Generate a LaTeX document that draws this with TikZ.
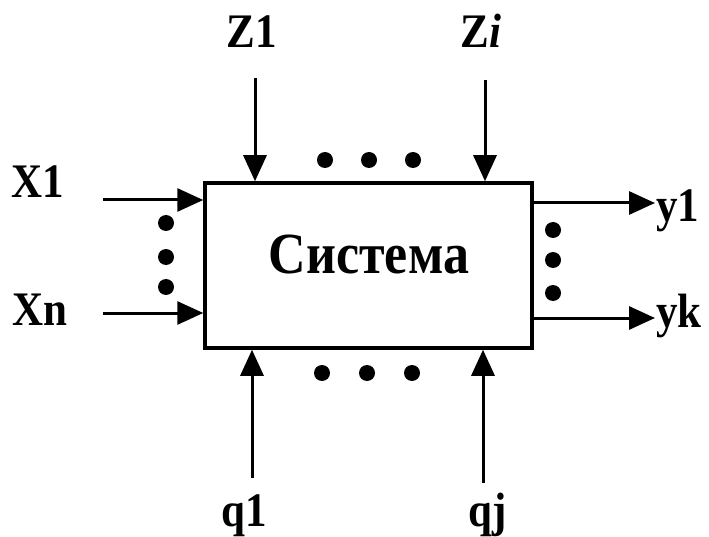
\documentclass[tikz,border=0pt]{standalone}
\usepackage{fontspec}
\setmainfont{Liberation Serif}
\usetikzlibrary{arrows.meta}
\newcommand{\tall}[1]{\scalebox{1}[1.12]{#1}}
\begin{document}
\begin{tikzpicture}[x=1pt,y=-1pt,
  lbl/.style={font=\fontsize{43}{43}\selectfont\bfseries, inner sep=0pt, anchor=base},
  conn/.style={line width=3pt, -{Triangle[length=26pt,width=23pt]}},
  dotc/.style={fill=black, draw=none},
  sysbox/.style={draw, line width=3.5pt, minimum width=327pt, minimum height=165pt, inner sep=0pt}]
\useasboundingbox (0,0) rectangle (709,537);
\node[sysbox] (box) at (368.5,265.5) {};
\node[font=\fontsize{52}{52}\selectfont\bfseries, inner sep=0pt, anchor=base] (sys) at (369,273) {\tall{Система}};
% labels
\node[lbl] (lz1) at (252,48) {\tall{Z1}};
\node[lbl] (lzi) at (481,48) {\tall{Z\textit{i}}};
\node[lbl] (lx1) at (38,198) {\tall{X1}};
\node[lbl] (lxn) at (40,325) {\tall{Xn}};
\node[lbl, anchor=base west] (ly1) at (656,222) {\tall{y1}};
\node[lbl, anchor=base west] (lyk) at (656,327) {\tall{yk}};
\node[lbl] (lq1) at (244,526) {\tall{q1}};
\node[lbl] (lqj) at (488,526) {\tall{qj}};
% arrow start/end points
\coordinate (z1s) at (255,78);
\coordinate (zis) at (485,80);
\coordinate (x1s) at (103,200);
\coordinate (xns) at (103,313);
\coordinate (y1e) at (655,203);
\coordinate (yke) at (655,318);
\coordinate (q1s) at (252,478);
\coordinate (qjs) at (483,483);
\draw[conn] (z1s) -- (z1s |- box.north);
\draw[conn] (zis) -- (zis |- box.north);
\draw[conn] (x1s) -- (x1s -| box.west);
\draw[conn] (xns) -- (xns -| box.west);
\draw[conn] (y1e -| box.east) -- (y1e);
\draw[conn] (yke -| box.east) -- (yke);
\draw[conn] (q1s) -- (q1s |- box.south);
\draw[conn] (qjs) -- (qjs |- box.south);
% dots
\foreach \p in {(325,160),(369,160),(413,160),(322,373),(367,373),(412,373),(166,223),(166,257),(166,287),(553,230),(553,260),(553,293)}
  \fill[dotc] \p circle (8);
\end{tikzpicture}
\end{document}
